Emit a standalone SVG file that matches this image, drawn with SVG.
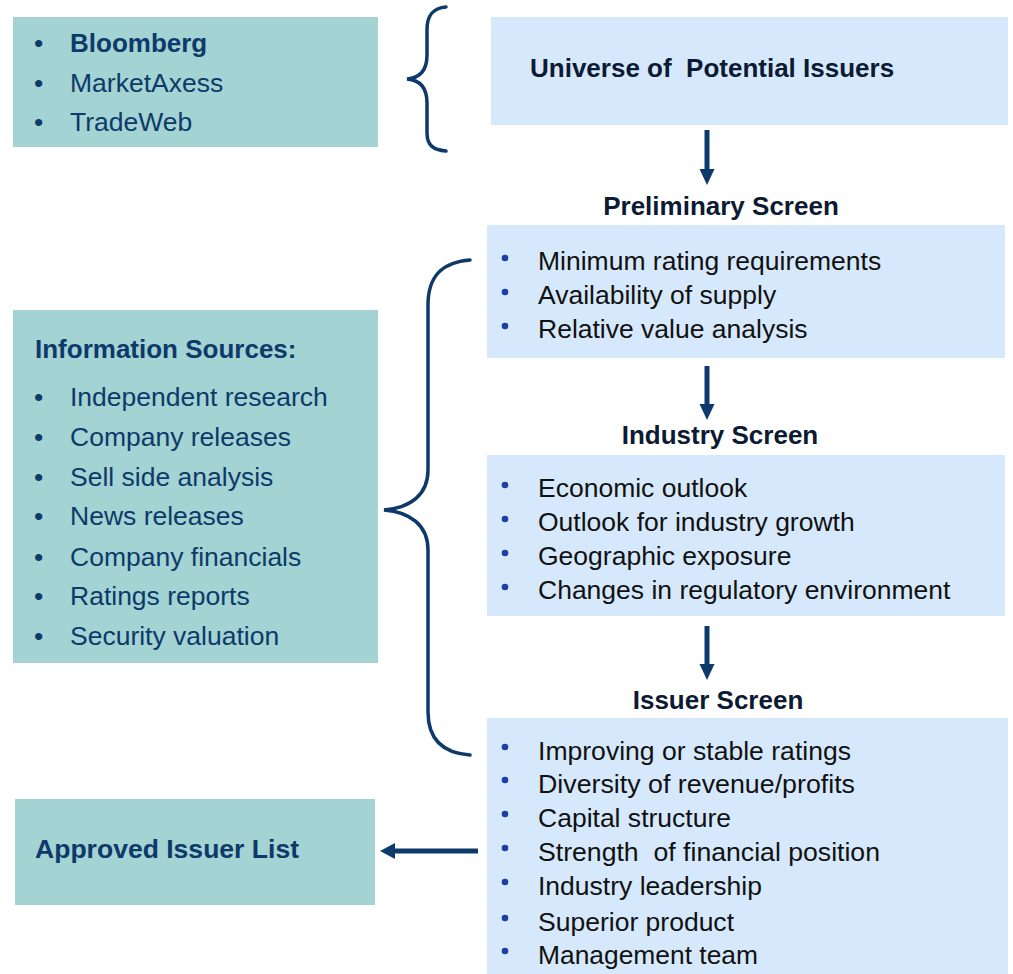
<svg xmlns="http://www.w3.org/2000/svg" width="1013" height="974" viewBox="0 0 1013 974">
  <style>
    .teal { fill: #a3d3d2; }
    .sky { fill: #d6e9fc; }
    .src { font-family: "Liberation Sans", Arial, sans-serif; font-size: 26.5px; fill: #0d3a6a; }
    .srcb { font-family: "Liberation Sans", Arial, sans-serif; font-size: 26px; font-weight: bold; fill: #0d3a6a; }
    .head { font-family: "Liberation Sans", Arial, sans-serif; font-size: 26px; font-weight: bold; fill: #0c1a33; }
    .item { font-family: "Liberation Sans", Arial, sans-serif; font-size: 26.5px; fill: #111111; }
    .dot { fill: #1c3fa6; }
    .brace { fill: none; stroke: #0d3a6a; stroke-width: 3.5; stroke-linecap: round; }
    .shaft { stroke: #0d3a6a; stroke-width: 5; fill: none; }
    .tip { fill: #0d3a6a; }
  </style>

  <!-- trading platforms -->
  <g id="platforms">
    <rect class="teal" x="13" y="17" width="365" height="130"/>
    <text class="src" x="34" y="52">•</text>
    <text class="srcb" x="70" y="52" font-size="26.5">Bloomberg</text>
    <text class="src" x="34" y="92">•</text>
    <text class="src" x="70" y="92">MarketAxess</text>
    <text class="src" x="34" y="131">•</text>
    <text class="src" x="70" y="131">TradeWeb</text>
  </g>

  <!-- universe -->
  <g id="universe">
    <rect class="sky" x="491" y="17" width="517" height="108"/>
    <text class="head" x="530" y="77" xml:space="preserve">Universe of  Potential Issuers</text>
  </g>

  <!-- preliminary screen -->
  <g id="preliminary">
    <text class="head" x="721" y="215" text-anchor="middle">Preliminary Screen</text>
    <rect class="sky" x="487" y="225" width="518" height="133"/>
    <circle class="dot" cx="505" cy="258" r="3.3"/>
    <text class="item" x="538" y="270">Minimum rating requirements</text>
    <circle class="dot" cx="505" cy="292" r="3.3"/>
    <text class="item" x="538" y="304">Availability of supply</text>
    <circle class="dot" cx="505" cy="326" r="3.3"/>
    <text class="item" x="538" y="338">Relative value analysis</text>
  </g>

  <!-- industry screen -->
  <g id="industry">
    <text class="head" x="720" y="444" text-anchor="middle">Industry Screen</text>
    <rect class="sky" x="487" y="455" width="518" height="161"/>
    <circle class="dot" cx="505" cy="485" r="3.3"/>
    <text class="item" x="538" y="497">Economic outlook</text>
    <circle class="dot" cx="505" cy="519" r="3.3"/>
    <text class="item" x="538" y="531">Outlook for industry growth</text>
    <circle class="dot" cx="505" cy="553" r="3.3"/>
    <text class="item" x="538" y="565">Geographic exposure</text>
    <circle class="dot" cx="505" cy="587" r="3.3"/>
    <text class="item" x="538" y="599">Changes in regulatory environment</text>
  </g>

  <!-- issuer screen -->
  <g id="issuer">
    <text class="head" x="718" y="709" text-anchor="middle">Issuer Screen</text>
    <rect class="sky" x="487" y="718" width="521" height="256"/>
    <circle class="dot" cx="505" cy="747" r="3.3"/>
    <text class="item" x="538" y="760" textLength="313" lengthAdjust="spacingAndGlyphs">Improving or stable ratings</text>
    <circle class="dot" cx="505" cy="780" r="3.3"/>
    <text class="item" x="538" y="793" textLength="317" lengthAdjust="spacingAndGlyphs">Diversity of revenue/profits</text>
    <circle class="dot" cx="505" cy="814" r="3.3"/>
    <text class="item" x="538" y="827" textLength="193" lengthAdjust="spacingAndGlyphs">Capital structure</text>
    <circle class="dot" cx="505" cy="848" r="3.3"/>
    <text class="item" x="538" y="861" textLength="342" lengthAdjust="spacingAndGlyphs" xml:space="preserve">Strength  of financial position</text>
    <circle class="dot" cx="505" cy="882" r="3.3"/>
    <text class="item" x="538" y="895" textLength="224" lengthAdjust="spacingAndGlyphs">Industry leadership</text>
    <circle class="dot" cx="505" cy="918" r="3.3"/>
    <text class="item" x="538" y="931" textLength="196" lengthAdjust="spacingAndGlyphs">Superior product</text>
    <circle class="dot" cx="505" cy="951" r="3.3"/>
    <text class="item" x="538" y="964" textLength="220" lengthAdjust="spacingAndGlyphs">Management team</text>
  </g>

  <!-- information sources -->
  <g id="sources">
    <rect class="teal" x="13" y="310" width="365" height="353"/>
    <text class="srcb" x="35" y="358">Information Sources:</text>
    <text class="src" x="34" y="406">•</text>
    <text class="src" x="70" y="406">Independent research</text>
    <text class="src" x="34" y="446">•</text>
    <text class="src" x="70" y="446">Company releases</text>
    <text class="src" x="34" y="486">•</text>
    <text class="src" x="70" y="486">Sell side analysis</text>
    <text class="src" x="34" y="525">•</text>
    <text class="src" x="70" y="525">News releases</text>
    <text class="src" x="34" y="566">•</text>
    <text class="src" x="70" y="566">Company financials</text>
    <text class="src" x="34" y="605">•</text>
    <text class="src" x="70" y="605">Ratings reports</text>
    <text class="src" x="34" y="645">•</text>
    <text class="src" x="70" y="645">Security valuation</text>
  </g>

  <!-- approved list -->
  <g id="approved">
    <rect class="teal" x="15" y="799" width="360" height="106"/>
    <text class="srcb" x="35" y="858" textLength="264" lengthAdjust="spacingAndGlyphs">Approved Issuer List</text>
  </g>

  <!-- connectors: braces and arrows -->
  <g id="connectors">
    <path class="brace" d="M446,7 C433,8 427,15 427,30 L427,55 C427,70 420,78 407,79 C420,80 427,88 427,103 L427,133 C427,145 433,150 446,151"/>
    <path class="brace" d="M470,260 C443,262 428,275 428,305 L428,470 C428,495 410,508 384,510 C410,512 428,525 428,550 L428,712 C428,740 443,753 470,755"/>

    <line class="shaft" x1="707" y1="130" x2="707" y2="172"/>
    <path class="tip" d="M699.5,169 L714.5,169 L707,185 Z"/>

    <line class="shaft" x1="707" y1="366" x2="707" y2="407"/>
    <path class="tip" d="M699.5,404 L714.5,404 L707,420 Z"/>

    <line class="shaft" x1="707" y1="626" x2="707" y2="667"/>
    <path class="tip" d="M699.5,664 L714.5,664 L707,680 Z"/>

    <line class="shaft" x1="478" y1="851" x2="392" y2="851" stroke-width="6"/>
    <path class="tip" d="M395,843 L395,859 L380,851 Z"/>
  </g>
</svg>
